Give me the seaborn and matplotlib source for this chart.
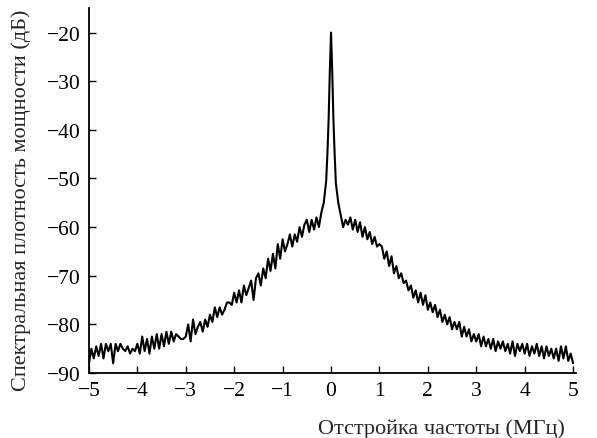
import numpy as np
import pandas as pd
import matplotlib
matplotlib.use("Agg")
import matplotlib.pyplot as plt
import seaborn as sns

# Main grid: detuning from -5 to 5 MHz in 0.05 steps (201 points)
freq_main = np.round(np.linspace(-5.0, 5.0, 201), 3)
psd_main = [
    -88, -85, -87, -84.5, -86.5, -84, -87, -84, -85.5, -84,
    -88, -84, -85.5, -84, -85, -85.5, -84.5, -86, -85, -85.5,
    -84, -86, -82.5, -85.5, -83, -86, -82.5, -85, -82, -85,
    -82, -84.5, -81.5, -84, -81.5, -83.5, -82, -82.5, -83, -83,
    -82.5, -80, -83.5, -79, -82, -80.5, -79.5, -81.5, -79, -80.5,
    -78, -79.5, -76.5, -78.5, -76.5, -78, -77, -75.5, -75.5, -76,
    -73.5, -75.5, -73, -75.5, -72, -74, -72.5, -71, -75, -70.5,
    -69.5, -72, -68.5, -70.5, -66.5, -69, -65.5, -68.5, -63.5, -66.5,
    -62.5, -65, -63.5, -61.5, -64, -61.5, -63, -60, -62, -59.5,
    -58.5, -61, -58.5, -60.5, -58, -60, -57, -55, -50.5, -38,
    -20,
    -38, -51, -55, -57.5, -60, -58.5, -59.5, -58, -60.5, -58.5,
    -61, -59, -62, -60, -62.5, -61, -63.5, -62, -64, -63.5,
    -64, -66.5, -65, -68, -66, -69.5, -68, -70.5, -69.5, -71.5,
    -71, -73, -72, -74.5, -73, -75.5, -73.5, -76, -74, -77,
    -75.5, -77.5, -76, -78.5, -77, -79.5, -78, -80, -78.5, -81,
    -79.5, -81, -79.5, -82.5, -80.5, -82.5, -81, -83.5, -82, -83.5,
    -82, -84.5, -82.5, -84.5, -83, -85, -83, -85.5, -83.5, -85,
    -83.5, -85.5, -84, -86, -83.5, -86.5, -84, -85.5, -84, -86,
    -84, -86.5, -84.5, -86, -84, -86.5, -84.5, -87, -84.5, -86.5,
    -85, -87, -85, -87.5, -84.5, -87, -84.5, -87.5, -86, -88,
]
# Extra points resolving the narrow central peak
freq_peak = [-0.075, -0.025, 0.025, 0.075]
psd_peak = [-45, -28, -28, -45]

xticks = [-5, -4, -3, -2, -1, 0, 1, 2, 3, 4, 5]
yticks = [-90, -80, -70, -60, -50, -40, -30, -20]

df = pd.DataFrame({
    "f": np.concatenate([freq_main, freq_peak]),
    "p": np.concatenate([psd_main, psd_peak]),
}).sort_values("f").reset_index(drop=True)

sns.set_style("ticks")
plt.rcParams["font.family"] = ["Liberation Serif", "DejaVu Serif"]
plt.rcParams["axes.unicode_minus"] = True

fig = plt.figure(figsize=(5.97, 4.39), dpi=100)
ax = fig.add_axes([0.149, 0.148, 0.815, 0.831])
sns.lineplot(data=df, x="f", y="p", ax=ax, color="black", linewidth=1.5,
             sort=False, estimator=None)

ax.set_xlim(-5, 5.05)
ax.set_ylim(-90, -15)
ax.set_xticks(xticks)
ax.set_yticks(yticks)
ax.tick_params(direction="in", length=5, width=1, labelsize=15.5, colors="black", pad=6)
for s in ["top", "right"]:
    ax.spines[s].set_visible(False)
for s in ["left", "bottom"]:
    ax.spines[s].set_linewidth(1.3)
    ax.spines[s].set_color("black")

ax.set_xlabel("Отстройка частоты (МГц)", fontsize=16, loc="right", labelpad=13)
ax.xaxis.label.set_x(0.978)
ax.set_ylabel("Спектральная плотность мощности (дБ)", fontsize=16, loc="top", labelpad=11)

fig.savefig("out.png", dpi=100)
